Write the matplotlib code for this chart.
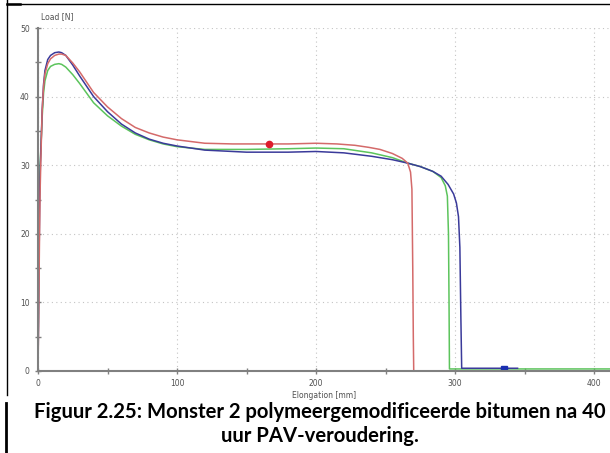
import matplotlib
matplotlib.use("Agg")
import matplotlib.pyplot as plt
from matplotlib.lines import Line2D
from matplotlib.ticker import MultipleLocator

# load-elongation curves (elongation in mm, load in N)
red_x = [0, 0.5, 1.0, 1.5, 2.2, 3, 4, 5, 7, 9, 12, 15, 17, 20, 25, 30, 40, 50, 60, 70, 80, 90, 100,
         120, 140, 165, 180, 200, 215, 228, 238, 246, 255, 262, 266, 268, 269, 269.6, 270, 270.3]
red_y = [0, 8, 18, 26, 32, 38, 41.5, 43.3, 44.8, 45.5, 46.0, 46.2, 46.2, 46.0, 44.9, 43.6, 40.6, 38.5, 36.8, 35.5,
         34.7, 34.1, 33.7, 33.2, 33.1, 33.1, 33.1, 33.2, 33.1, 32.9, 32.6, 32.3, 31.7, 31.0, 30.3, 29.0, 26.5,
         15, 5, 0]

green_x = [0, 0.3, 0.6, 1, 1.5, 2.2, 3, 4, 5, 7, 9, 12, 15, 17, 20, 25, 30, 40, 50, 60, 70, 80, 90, 100,
           120, 150, 180, 200, 220, 240, 255, 266, 275, 284, 290, 293, 294.5, 295.3, 295.7, 296, 411]
green_y = [0, 10, 20, 26, 30, 33, 37, 40.5, 42.3, 43.8, 44.4, 44.7, 44.8, 44.7, 44.3, 43.2, 41.9, 39.1, 37.2, 35.7,
           34.5, 33.7, 33.1, 32.7, 32.3, 32.3, 32.4, 32.5, 32.4, 31.8, 31.1, 30.3, 29.8, 29.1, 28.2, 27.0, 25.5,
           20, 10, 0.3, 0.3]

blue_x = [0, 0.4, 0.8, 1.2, 1.7, 2.2, 3, 4, 5, 7, 9, 12, 15, 17, 20, 25, 30, 40, 50, 60, 70, 80, 90, 100,
          120, 150, 180, 200, 220, 240, 255, 266, 275, 284, 290, 295, 299, 301, 302.5, 303.5, 304.2, 304.8, 345]
blue_y = [0, 8, 17, 25, 30, 33, 38, 41.8, 43.8, 45.4, 46.0, 46.4, 46.5, 46.4, 46.0, 44.6, 43.0, 40.0, 37.8, 36.0,
          34.7, 33.8, 33.2, 32.8, 32.2, 31.9, 31.9, 32.0, 31.8, 31.3, 30.8, 30.3, 29.8, 29.1, 28.4, 27.2, 25.8,
          24.5, 22.5, 18, 8, 0.4, 0.4]

red_marker = (166, 33.1)
blue_marker = (335, 0.3)

caption = "Figuur 2.25: Monster 2 polymeergemodificeerde bitumen na 40\nuur PAV-veroudering."

fig = plt.figure(figsize=(6.10, 4.53), dpi=100)
ax = fig.add_axes([38 / 610, 82 / 453, 1 - 38 / 610, 343 / 453])

ax.plot(green_x, green_y, color="#5cc45c", lw=1.1)
ax.plot(blue_x, blue_y, color="#3a3a9a", lw=1.1)
ax.plot(red_x, red_y, color="#d46a6a", lw=1.1)
ax.plot(*red_marker, "o", color="#dd1c2c", ms=4.5)
ax.plot(*blue_marker, "s", color="#1a2fb0", ms=4)

ax.set_xlim(0, 411.5)
ax.set_ylim(0, 50)
ax.xaxis.set_major_locator(MultipleLocator(100))
ax.xaxis.set_minor_locator(MultipleLocator(50))
ax.yaxis.set_major_locator(MultipleLocator(10))
ax.yaxis.set_minor_locator(MultipleLocator(5))
ax.grid(True, which="major", color="#c4c4c4", ls=(0, (1, 3)), lw=0.8)

for s in ["top", "right"]:
    ax.spines[s].set_visible(False)
for s in ["left", "bottom"]:
    ax.spines[s].set_color("#808080")
    ax.spines[s].set_linewidth(1.5)
ax.tick_params(which="both", direction="inout", colors="#808080", labelcolor="#505050", labelsize=5.5)
ax.tick_params(which="major", length=5, width=1)
ax.tick_params(which="minor", length=4, width=1)

ax.set_xlabel("Elongation [mm]", fontsize=5.5, color="#505050", labelpad=2)
fig.text(41 / 610, 1 - 17 / 453, "Load [N]", fontsize=5.5, color="#505050", va="center")

fig.text(320 / 610, 1 - 424 / 453, caption, ha="center", va="center", fontsize=14.6,
         family="Lato", weight="bold", linespacing=1.3)

# frame lines around the figure
fig.add_artist(Line2D([7 / 610, 1], [1 - 4 / 453] * 2, color="black", lw=1))
fig.add_artist(Line2D([7 / 610, 20 / 610], [1 - 4 / 453] * 2, color="black", lw=1.8))
fig.add_artist(Line2D([7 / 610] * 2, [1, 1 - 395 / 453], color="black", lw=1))
fig.add_artist(Line2D([6 / 610] * 2, [1 - 403 / 453, 0], color="black", lw=2))

fig.savefig("out.png", dpi=100)
